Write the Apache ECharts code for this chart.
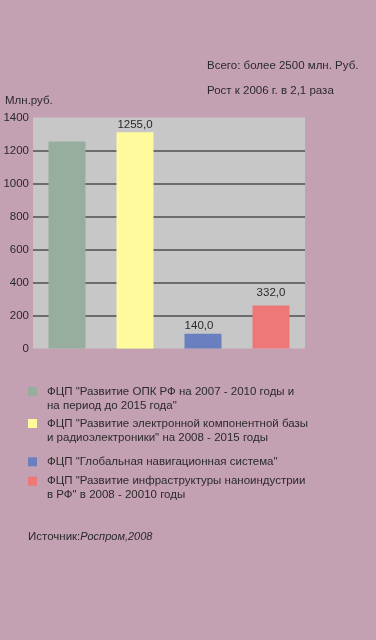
<!DOCTYPE html>
<html>
<head>
<meta charset="utf-8">
<script src="https://cdn.jsdelivr.net/npm/echarts@6/dist/echarts.min.js"></script>
<style>
  html, body { margin: 0; padding: 0; background: #c4a1b2; }
  #main { width: 376px; height: 640px; }
</style>
</head>
<body>
<div id="main"></div>
<script>
// программы (легенда)
var programs = [
  'ФЦП "Развитие ОПК РФ на 2007 - 2010 годы и\nна период до 2015 года"',
  'ФЦП "Развитие электронной компонентной базы\nи радиоэлектроники" на 2008 - 2015 годы',
  'ФЦП "Глобальная навигационная система"',
  'ФЦП "Развитие инфраструктуры наноиндустрии\nв РФ" в 2008 - 20010 годы'
];
// высоты столбцов, как нарисованы (млн. руб.)
var values = [1255, 1310, 90, 260];
// подписи над столбцами, как в оригинале
var valueLabels = ['', '1255,0', '140,0', '332,0'];
var yTicks = [0, 200, 400, 600, 800, 1000, 1200, 1400];

var colors = ['#97ae9f', '#fffa9b', '#6a7fbf', '#ee7878'];
var FONT = "'Liberation Sans', Arial, sans-serif";
var FS = 11.5;
var TXT = '#2a2a2a';

var dom = document.getElementById('main');
var myChart = echarts.init(dom);

// верх квадратика каждой строки легенды
var legendIcons = [387, 419, 457.3, 476.7];

var legends = programs.map(function (name, i) {
  var twoLines = name.indexOf('\n') >= 0;
  return {
    data: [name],
    left: 28,
    top: legendIcons[i] - (twoLines ? 16.5 : 2.5),
    padding: 0,
    icon: 'rect',
    itemWidth: 9,
    itemHeight: 9,
    selectedMode: false,
    // пустая строка сверху, чтобы первая строка стояла напротив квадратика
    formatter: function (n) { return n.indexOf('\n') >= 0 ? '\n' + n : n; },
    textStyle: {
      color: TXT,
      fontFamily: FONT,
      fontSize: FS,
      lineHeight: 14,
      padding: [0, 0, 0, 5]
    }
  };
});

var labelDist = [3, 2, 2, 7];
var labelOffset = [[0, 0], [0, 0], [-4, 0], [0, 0]];

var series = programs.map(function (name, i) {
  return {
    type: 'bar',
    name: name,
    barWidth: 37,
    barGap: '-100%',
    itemStyle: { color: colors[i] },
    label: {
      show: valueLabels[i] !== '',
      position: 'top',
      distance: labelDist[i],
      offset: labelOffset[i],
      formatter: valueLabels[i],
      color: TXT,
      fontFamily: FONT,
      fontSize: FS
    },
    data: values.map(function (v, j) { return j === i ? v : '-'; })
  };
});

var gridColors = yTicks.map(function (t, k) {
  return (k === 0 || k === yTicks.length - 1) ? 'rgba(0,0,0,0)' : '#4e4e4e';
});

var option = {
  backgroundColor: '#c4a1b2',
  animation: false,
  textStyle: { fontFamily: FONT },
  grid: {
    left: 33,
    right: 71,
    top: 117.5,
    bottom: 291.5,
    show: true,
    backgroundColor: '#c7c7c7',
    borderWidth: 0
  },
  legend: legends,
  xAxis: {
    type: 'category',
    data: programs,
    axisLine: { show: false },
    axisTick: { show: false },
    axisLabel: { show: false }
  },
  yAxis: {
    type: 'value',
    min: yTicks[0],
    max: yTicks[yTicks.length - 1],
    interval: 200,
    axisLine: { show: false },
    axisTick: { show: false },
    axisLabel: {
      margin: 4,
      color: TXT,
      fontFamily: FONT,
      fontSize: FS,
      formatter: function (v) { return String(v); }
    },
    splitLine: {
      show: true,
      lineStyle: { color: gridColors, width: 1.5 }
    }
  },
  graphic: [
    {
      type: 'text', left: 207, top: 60,
      style: { text: 'Всего: более 2500 млн. Руб.', fill: TXT, font: FS + 'px ' + FONT }
    },
    {
      type: 'text', left: 207, top: 85,
      style: { text: 'Рост к 2006 г. в 2,1 раза', fill: TXT, font: FS + 'px ' + FONT }
    },
    {
      type: 'text', left: 5, top: 95,
      style: { text: 'Млн.руб.', fill: TXT, font: FS + 'px ' + FONT }
    },
    {
      type: 'text', left: 28, top: 531,
      style: {
        text: '{a|Источник:}{b|Роспром,2008}',
        rich: {
          a: { fill: TXT, fontFamily: FONT, fontSize: FS },
          b: { fill: TXT, fontFamily: FONT, fontSize: 11, fontStyle: 'italic' }
        }
      }
    }
  ],
  series: series
};

if (option && typeof option === 'object') {
  myChart.setOption(option, true);
  window.onresize = function () {
    myChart.resize();
  };
}
</script>
</body>
</html>
